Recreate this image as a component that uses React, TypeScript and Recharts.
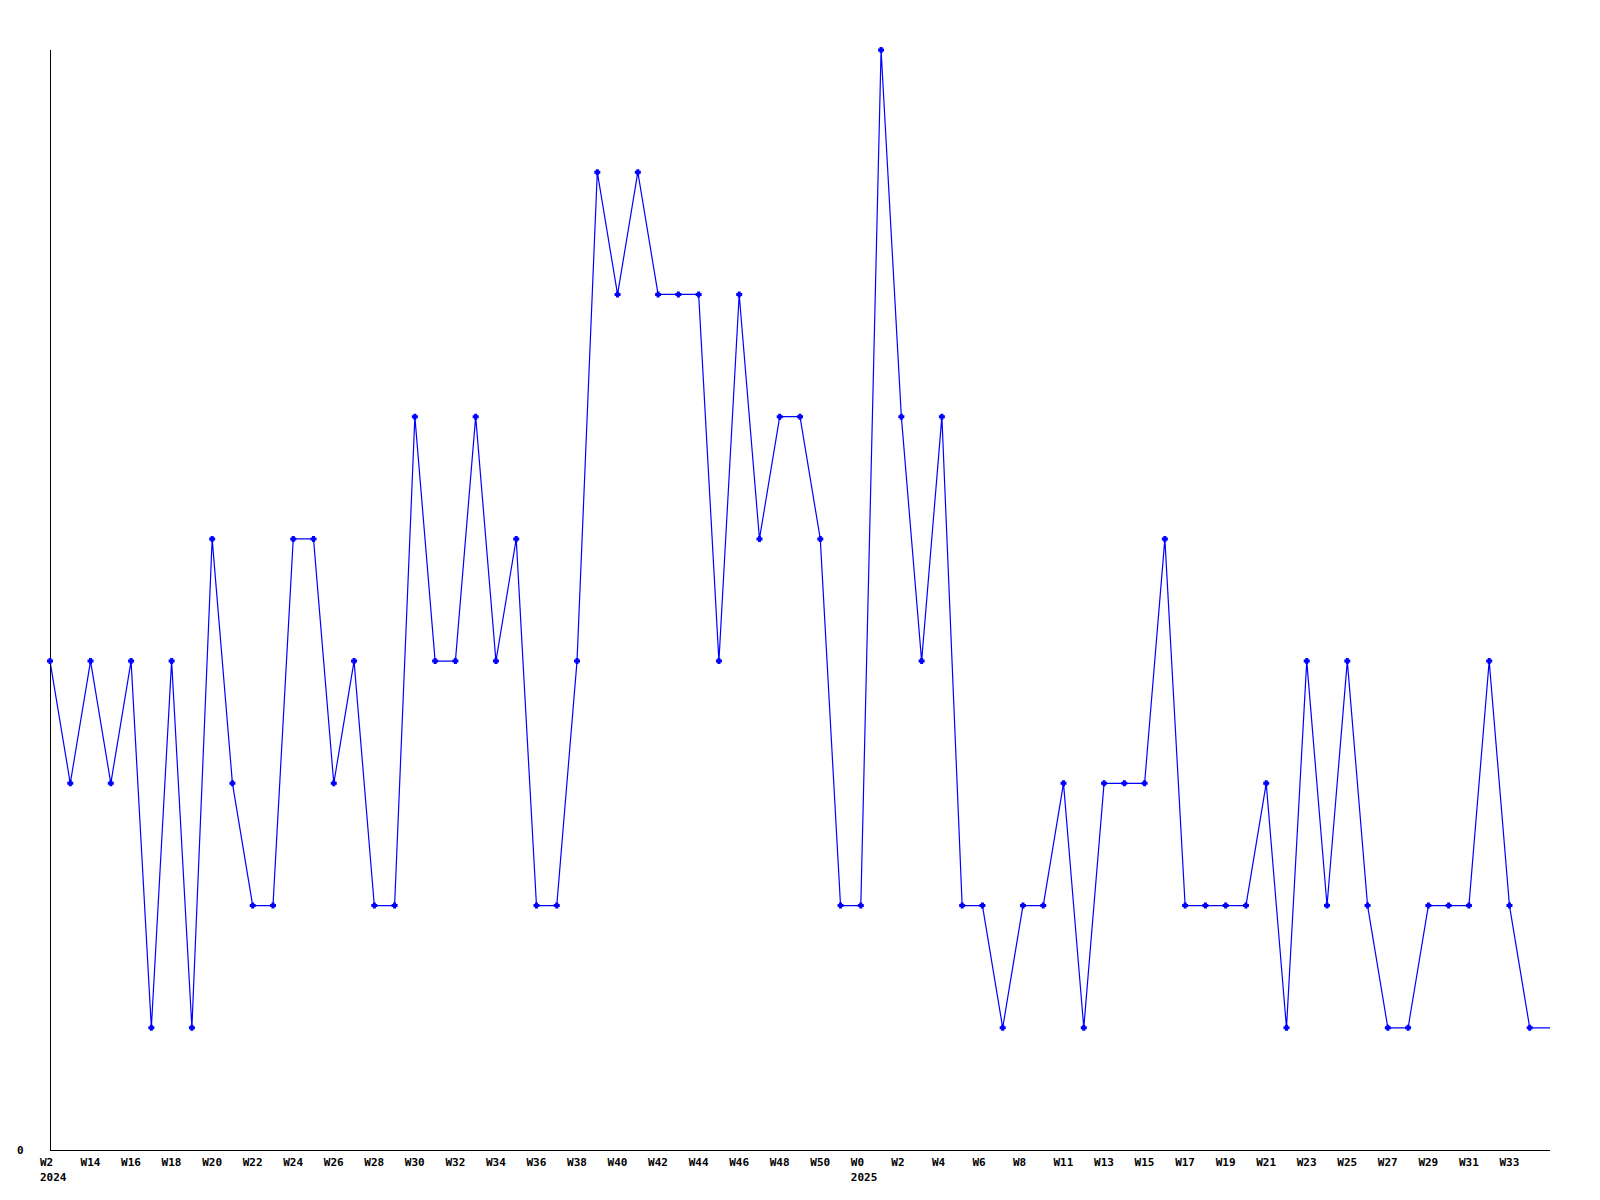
import { LineChart, Line, XAxis, YAxis } from 'recharts'

const weeks = [
  'W2', 'W13', 'W14', 'W15', 'W16', 'W17', 'W18', 'W19', 'W20', 'W21',
  'W22', 'W23', 'W24', 'W25', 'W26', 'W27', 'W28', 'W29', 'W30', 'W31',
  'W32', 'W33', 'W34', 'W35', 'W36', 'W37', 'W38', 'W39', 'W40', 'W41',
  'W42', 'W43', 'W44', 'W45', 'W46', 'W47', 'W48', 'W49', 'W50', 'W51',
  'W0', 'W1', 'W2', 'W3', 'W4', 'W5', 'W6', 'W7', 'W8', 'W10',
  'W11', 'W12', 'W13', 'W14', 'W15', 'W16', 'W17', 'W18', 'W19', 'W20',
  'W21', 'W22', 'W23', 'W24', 'W25', 'W26', 'W27', 'W28', 'W29', 'W30',
  'W31', 'W32', 'W33', 'W34', 'W35',
]

const counts = [
  4, 3, 4, 3, 4, 1, 4, 1, 5, 3,
  2, 2, 5, 5, 3, 4, 2, 2, 6, 4,
  4, 6, 4, 5, 2, 2, 4, 8, 7, 8,
  7, 7, 7, 4, 7, 5, 6, 6, 5, 2,
  2, 9, 6, 4, 6, 2, 2, 1, 2, 2,
  3, 1, 3, 3, 3, 5, 2, 2, 2, 2,
  3, 1, 4, 2, 4, 2, 1, 1, 2, 2,
  2, 4, 2, 1, 1,
]

// first week of each year on the axis
const yearStarts = [0, 40]
const yearNames = ['2024', '2025']

const data = weeks.map((w, i) => ({ week: w, count: counts[i] }))

const font = { fontFamily: '"DejaVu Sans Mono", monospace', fontSize: 11, fontWeight: 700 }
const axisLine = { stroke: '#000', strokeWidth: 1, shapeRendering: 'crispEdges' }

// eslint-disable-next-line @typescript-eslint/no-explicit-any
function WeekTick({ x, y, index, payload }: any) {
  if (index % 2 !== 0 || index === weeks.length - 1) return null
  const yi = yearStarts.indexOf(index)
  return (
    <g>
      <text x={x - 10} y={y + 16} fill="#000" {...font}>{payload.value}</text>
      {yi >= 0 && (
        <text x={x - 10} y={y + 31} fill="#000" {...font}>{yearNames[yi]}</text>
      )}
    </g>
  )
}

// eslint-disable-next-line @typescript-eslint/no-explicit-any
function ZeroTick({ x, y, payload }: any) {
  return (
    <text x={x - 33} y={y + 4} fill="#000" {...font}>{payload.value}</text>
  )
}

// eslint-disable-next-line @typescript-eslint/no-explicit-any
function Marker({ cx, cy, index }: any) {
  if (index === counts.length - 1) return <g key={index} />
  return (
    <path
      key={index}
      d={`M${cx - 1.5},${cy - 3}h3v1.5h1.5v3h-1.5v1.5h-3v-1.5h-1.5v-3h1.5z`}
      fill="#0000ff"
    />
  )
}

export default function App() {
  return (
    <div style={{ position: 'absolute', left: 0, top: 0, background: '#fff' }}>
      <LineChart
        width={1600}
        height={1200}
        data={data}
        margin={{ top: 50, right: 50, bottom: 0, left: 0 }}
      >
        <XAxis
          dataKey="week"
          interval={0}
          height={50}
          tickSize={0}
          tickMargin={0}
          tick={<WeekTick />}
          axisLine={axisLine}
        />
        <YAxis
          domain={[0, 9]}
          ticks={[0]}
          width={50}
          tickSize={0}
          tickMargin={0}
          tick={<ZeroTick />}
          axisLine={axisLine}
        />
        <Line
          type="linear"
          dataKey="count"
          stroke="#0000ff"
          strokeWidth={1.2}
          dot={<Marker />}
          activeDot={false}
          isAnimationActive={false}
        />
      </LineChart>
    </div>
  )
}
